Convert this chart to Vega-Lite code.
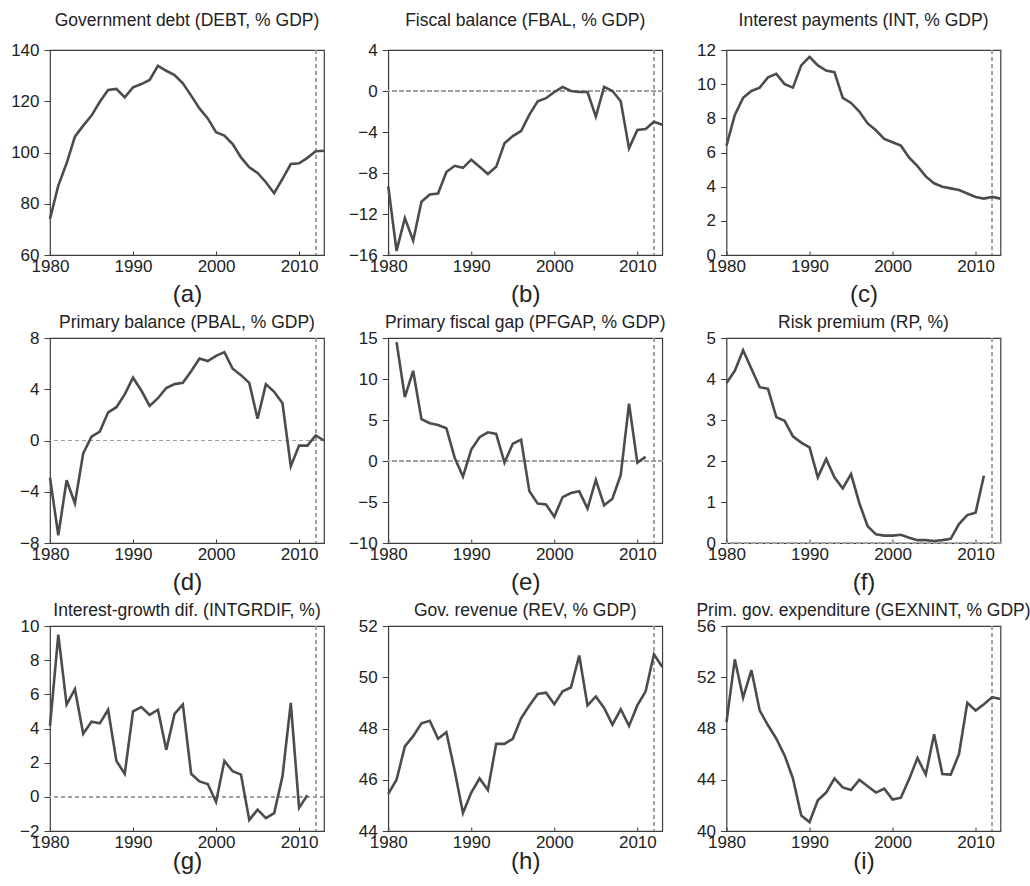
{
  "$schema": "https://vega.github.io/schema/vega-lite/v6.json",
  "padding": {"left": 10, "top": 10, "right": 0, "bottom": 0},
  "background": "white",
  "datasets": {
    "debt": [
      {"year":1980,"v":74.1},{"year":1981,"v":87.1},{"year":1982,"v":95.8},{"year":1983,"v":106.2},{"year":1984,"v":110.5},
      {"year":1985,"v":114.4},{"year":1986,"v":119.8},{"year":1987,"v":124.4},{"year":1988,"v":124.8},{"year":1989,"v":121.5},
      {"year":1990,"v":125.4},{"year":1991,"v":126.7},{"year":1992,"v":128.3},{"year":1993,"v":133.8},{"year":1994,"v":131.9},
      {"year":1995,"v":130.2},{"year":1996,"v":127.0},{"year":1997,"v":122.2},{"year":1998,"v":117.2},{"year":1999,"v":113.3},
      {"year":2000,"v":107.9},{"year":2001,"v":106.6},{"year":2002,"v":103.3},{"year":2003,"v":98.1},{"year":2004,"v":94.2},
      {"year":2005,"v":92.0},{"year":2006,"v":88.4},{"year":2007,"v":84.1},{"year":2008,"v":89.7},{"year":2009,"v":95.5},
      {"year":2010,"v":95.8},{"year":2011,"v":97.9},{"year":2012,"v":100.5},{"year":2013,"v":100.7}
    ],
    "fbal": [
      {"year":1980,"v":-9.3},{"year":1981,"v":-15.6},{"year":1982,"v":-12.4},{"year":1983,"v":-14.6},{"year":1984,"v":-10.8},
      {"year":1985,"v":-10.1},{"year":1986,"v":-10.0},{"year":1987,"v":-7.9},{"year":1988,"v":-7.3},{"year":1989,"v":-7.5},
      {"year":1990,"v":-6.7},{"year":1991,"v":-7.4},{"year":1992,"v":-8.1},{"year":1993,"v":-7.4},{"year":1994,"v":-5.1},
      {"year":1995,"v":-4.4},{"year":1996,"v":-3.9},{"year":1997,"v":-2.3},{"year":1998,"v":-1.0},{"year":1999,"v":-0.7},
      {"year":2000,"v":-0.1},{"year":2001,"v":0.4},{"year":2002,"v":0.0},{"year":2003,"v":-0.1},{"year":2004,"v":-0.1},
      {"year":2005,"v":-2.5},{"year":2006,"v":0.4},{"year":2007,"v":0.0},{"year":2008,"v":-1.0},{"year":2009,"v":-5.6},
      {"year":2010,"v":-3.8},{"year":2011,"v":-3.7},{"year":2012,"v":-3.0},{"year":2013,"v":-3.3}
    ],
    "int": [
      {"year":1980,"v":6.4},{"year":1981,"v":8.2},{"year":1982,"v":9.2},{"year":1983,"v":9.6},{"year":1984,"v":9.8},
      {"year":1985,"v":10.4},{"year":1986,"v":10.6},{"year":1987,"v":10.0},{"year":1988,"v":9.8},{"year":1989,"v":11.1},
      {"year":1990,"v":11.6},{"year":1991,"v":11.1},{"year":1992,"v":10.8},{"year":1993,"v":10.7},{"year":1994,"v":9.2},
      {"year":1995,"v":8.9},{"year":1996,"v":8.4},{"year":1997,"v":7.7},{"year":1998,"v":7.3},{"year":1999,"v":6.8},
      {"year":2000,"v":6.6},{"year":2001,"v":6.4},{"year":2002,"v":5.7},{"year":2003,"v":5.2},{"year":2004,"v":4.6},
      {"year":2005,"v":4.2},{"year":2006,"v":4.0},{"year":2007,"v":3.9},{"year":2008,"v":3.8},{"year":2009,"v":3.6},
      {"year":2010,"v":3.4},{"year":2011,"v":3.3},{"year":2012,"v":3.4},{"year":2013,"v":3.3}
    ],
    "pbal": [
      {"year":1980,"v":-2.9},{"year":1981,"v":-7.4},{"year":1982,"v":-3.1},{"year":1983,"v":-4.9},{"year":1984,"v":-1.0},
      {"year":1985,"v":0.3},{"year":1986,"v":0.7},{"year":1987,"v":2.2},{"year":1988,"v":2.6},{"year":1989,"v":3.6},
      {"year":1990,"v":4.9},{"year":1991,"v":3.9},{"year":1992,"v":2.7},{"year":1993,"v":3.3},{"year":1994,"v":4.1},
      {"year":1995,"v":4.4},{"year":1996,"v":4.5},{"year":1997,"v":5.4},{"year":1998,"v":6.4},{"year":1999,"v":6.2},
      {"year":2000,"v":6.6},{"year":2001,"v":6.9},{"year":2002,"v":5.6},{"year":2003,"v":5.1},{"year":2004,"v":4.5},
      {"year":2005,"v":1.7},{"year":2006,"v":4.4},{"year":2007,"v":3.8},{"year":2008,"v":2.9},{"year":2009,"v":-2.0},
      {"year":2010,"v":-0.4},{"year":2011,"v":-0.4},{"year":2012,"v":0.4},{"year":2013,"v":0.0}
    ],
    "pfgap": [
      {"year":1981,"v":14.5},{"year":1982,"v":7.8},{"year":1983,"v":11.0},{"year":1984,"v":5.1},
      {"year":1985,"v":4.6},{"year":1986,"v":4.4},{"year":1987,"v":4.0},{"year":1988,"v":0.4},{"year":1989,"v":-1.9},
      {"year":1990,"v":1.4},{"year":1991,"v":2.9},{"year":1992,"v":3.5},{"year":1993,"v":3.3},{"year":1994,"v":-0.2},
      {"year":1995,"v":2.1},{"year":1996,"v":2.6},{"year":1997,"v":-3.7},{"year":1998,"v":-5.2},{"year":1999,"v":-5.3},
      {"year":2000,"v":-6.8},{"year":2001,"v":-4.4},{"year":2002,"v":-3.9},{"year":2003,"v":-3.7},{"year":2004,"v":-5.8},
      {"year":2005,"v":-2.3},{"year":2006,"v":-5.4},{"year":2007,"v":-4.6},{"year":2008,"v":-1.7},{"year":2009,"v":7.0},
      {"year":2010,"v":-0.2},{"year":2011,"v":0.5}
    ],
    "rp": [
      {"year":1980,"v":3.9},{"year":1981,"v":4.2},{"year":1982,"v":4.7},{"year":1983,"v":4.25},{"year":1984,"v":3.8},
      {"year":1985,"v":3.76},{"year":1986,"v":3.07},{"year":1987,"v":2.98},{"year":1988,"v":2.6},{"year":1989,"v":2.45},
      {"year":1990,"v":2.33},{"year":1991,"v":1.6},{"year":1992,"v":2.05},{"year":1993,"v":1.6},{"year":1994,"v":1.33},
      {"year":1995,"v":1.68},{"year":1996,"v":0.97},{"year":1997,"v":0.41},{"year":1998,"v":0.21},{"year":1999,"v":0.18},
      {"year":2000,"v":0.18},{"year":2001,"v":0.2},{"year":2002,"v":0.13},{"year":2003,"v":0.07},{"year":2004,"v":0.07},
      {"year":2005,"v":0.05},{"year":2006,"v":0.07},{"year":2007,"v":0.1},{"year":2008,"v":0.46},{"year":2009,"v":0.68},
      {"year":2010,"v":0.74},{"year":2011,"v":1.64}
    ],
    "intgrdif": [
      {"year":1980,"v":4.15},{"year":1981,"v":9.5},{"year":1982,"v":5.4},{"year":1983,"v":6.3},{"year":1984,"v":3.7},
      {"year":1985,"v":4.4},{"year":1986,"v":4.3},{"year":1987,"v":5.1},{"year":1988,"v":2.1},{"year":1989,"v":1.35},
      {"year":1990,"v":5.0},{"year":1991,"v":5.25},{"year":1992,"v":4.8},{"year":1993,"v":5.1},{"year":1994,"v":2.75},
      {"year":1995,"v":4.85},{"year":1996,"v":5.4},{"year":1997,"v":1.35},{"year":1998,"v":0.9},{"year":1999,"v":0.75},
      {"year":2000,"v":-0.3},{"year":2001,"v":2.1},{"year":2002,"v":1.5},{"year":2003,"v":1.3},{"year":2004,"v":-1.35},
      {"year":2005,"v":-0.75},{"year":2006,"v":-1.25},{"year":2007,"v":-0.95},{"year":2008,"v":1.2},{"year":2009,"v":5.5},
      {"year":2010,"v":-0.65},{"year":2011,"v":0.1}
    ],
    "rev": [
      {"year":1980,"v":45.45},{"year":1981,"v":46.0},{"year":1982,"v":47.3},{"year":1983,"v":47.7},{"year":1984,"v":48.2},
      {"year":1985,"v":48.3},{"year":1986,"v":47.6},{"year":1987,"v":47.85},{"year":1988,"v":46.35},{"year":1989,"v":44.7},
      {"year":1990,"v":45.5},{"year":1991,"v":46.05},{"year":1992,"v":45.6},{"year":1993,"v":47.4},{"year":1994,"v":47.4},
      {"year":1995,"v":47.6},{"year":1996,"v":48.4},{"year":1997,"v":48.9},{"year":1998,"v":49.35},{"year":1999,"v":49.4},
      {"year":2000,"v":48.95},{"year":2001,"v":49.45},{"year":2002,"v":49.6},{"year":2003,"v":50.85},{"year":2004,"v":48.9},
      {"year":2005,"v":49.25},{"year":2006,"v":48.8},{"year":2007,"v":48.15},{"year":2008,"v":48.75},{"year":2009,"v":48.1},
      {"year":2010,"v":48.9},{"year":2011,"v":49.45},{"year":2012,"v":50.9},{"year":2013,"v":50.4}
    ],
    "gexnint": [
      {"year":1980,"v":48.5},{"year":1981,"v":53.4},{"year":1982,"v":50.4},{"year":1983,"v":52.55},{"year":1984,"v":49.4},
      {"year":1985,"v":48.25},{"year":1986,"v":47.2},{"year":1987,"v":45.9},{"year":1988,"v":44.1},{"year":1989,"v":41.2},
      {"year":1990,"v":40.7},{"year":1991,"v":42.4},{"year":1992,"v":43.0},{"year":1993,"v":44.1},{"year":1994,"v":43.4},
      {"year":1995,"v":43.2},{"year":1996,"v":44.0},{"year":1997,"v":43.5},{"year":1998,"v":43.0},{"year":1999,"v":43.3},
      {"year":2000,"v":42.45},{"year":2001,"v":42.6},{"year":2002,"v":44.05},{"year":2003,"v":45.7},{"year":2004,"v":44.4},
      {"year":2005,"v":47.55},{"year":2006,"v":44.45},{"year":2007,"v":44.4},{"year":2008,"v":46.0},{"year":2009,"v":50.0},
      {"year":2010,"v":49.4},{"year":2011,"v":49.9},{"year":2012,"v":50.45},{"year":2013,"v":50.3}
    ]
  },
  "vconcat": [
    {
      "hconcat": [
        {
          "width": 274, "height": 205,
          "title": {"text": "Government debt (DEBT, % GDP)", "offset": 12},
          "data": {"name": "debt"},
          "layer": [
            {"mark": {"type": "rule", "color": "#a0a0a0", "strokeDash": [4, 3], "strokeWidth": 1}, "encoding": {"x": {"datum": 2012, "type": "quantitative"}}},
            {"mark": {"type": "line", "color": "#4c4c4c", "strokeWidth": 2.6},
             "encoding": {
               "x": {"field": "year", "type": "quantitative", "scale": {"domain": [1980, 2013], "nice": false, "zero": false}, "axis": {"values": [1980, 1990, 2000, 2010], "format": "d", "title": "(a)"}},
               "y": {"field": "v", "type": "quantitative", "scale": {"domain": [60, 140], "nice": false, "zero": false}, "axis": {"values": [60, 80, 100, 120, 140], "title": null, "labelOverlap": false}}
             }}
          ]
        },
        {
          "width": 274, "height": 205,
          "title": {"text": "Fiscal balance (FBAL, % GDP)", "offset": 12},
          "data": {"name": "fbal"},
          "layer": [
            {"mark": {"type": "rule", "color": "#a0a0a0", "strokeDash": [4, 3], "strokeWidth": 1}, "encoding": {"x": {"datum": 2012, "type": "quantitative"}}},
            {"mark": {"type": "rule", "color": "#a0a0a0", "strokeDash": [4, 3], "strokeWidth": 1}, "encoding": {"y": {"datum": 0, "type": "quantitative"}}},
            {"mark": {"type": "line", "color": "#4c4c4c", "strokeWidth": 2.6},
             "encoding": {
               "x": {"field": "year", "type": "quantitative", "scale": {"domain": [1980, 2013], "nice": false, "zero": false}, "axis": {"values": [1980, 1990, 2000, 2010], "format": "d", "title": "(b)"}},
               "y": {"field": "v", "type": "quantitative", "scale": {"domain": [-16, 4], "nice": false, "zero": false}, "axis": {"values": [-16, -12, -8, -4, 0, 4], "title": null, "labelOverlap": false}}
             }}
          ]
        },
        {
          "width": 274, "height": 205,
          "title": {"text": "Interest payments (INT, % GDP)", "offset": 12},
          "data": {"name": "int"},
          "layer": [
            {"mark": {"type": "rule", "color": "#a0a0a0", "strokeDash": [4, 3], "strokeWidth": 1}, "encoding": {"x": {"datum": 2012, "type": "quantitative"}}},
            {"mark": {"type": "line", "color": "#4c4c4c", "strokeWidth": 2.6},
             "encoding": {
               "x": {"field": "year", "type": "quantitative", "scale": {"domain": [1980, 2013], "nice": false, "zero": false}, "axis": {"values": [1980, 1990, 2000, 2010], "format": "d", "title": "(c)"}},
               "y": {"field": "v", "type": "quantitative", "scale": {"domain": [0, 12], "nice": false, "zero": false}, "axis": {"values": [0, 2, 4, 6, 8, 10, 12], "title": null, "labelOverlap": false}}
             }}
          ]
        }
      ],
      "spacing": 64.25,
      "bounds": "flush"
    },
    {
      "hconcat": [
        {
          "width": 274, "height": 205,
          "title": {"text": "Primary balance (PBAL, % GDP)", "offset": -2},
          "data": {"name": "pbal"},
          "layer": [
            {"mark": {"type": "rule", "color": "#a0a0a0", "strokeDash": [4, 3], "strokeWidth": 1}, "encoding": {"x": {"datum": 2012, "type": "quantitative"}}},
            {"mark": {"type": "rule", "color": "#a0a0a0", "strokeDash": [4, 3], "strokeWidth": 1}, "encoding": {"y": {"datum": 0, "type": "quantitative"}}},
            {"mark": {"type": "line", "color": "#4c4c4c", "strokeWidth": 2.6},
             "encoding": {
               "x": {"field": "year", "type": "quantitative", "scale": {"domain": [1980, 2013], "nice": false, "zero": false}, "axis": {"values": [1980, 1990, 2000, 2010], "format": "d", "title": "(d)"}},
               "y": {"field": "v", "type": "quantitative", "scale": {"domain": [-8, 8], "nice": false, "zero": false}, "axis": {"values": [-8, -4, 0, 4, 8], "title": null, "labelOverlap": false}}
             }}
          ]
        },
        {
          "width": 274, "height": 205,
          "title": {"text": "Primary fiscal gap (PFGAP, % GDP)", "offset": -2},
          "data": {"name": "pfgap"},
          "layer": [
            {"mark": {"type": "rule", "color": "#a0a0a0", "strokeDash": [4, 3], "strokeWidth": 1}, "encoding": {"x": {"datum": 2012, "type": "quantitative"}}},
            {"mark": {"type": "rule", "color": "#a0a0a0", "strokeDash": [4, 3], "strokeWidth": 1}, "encoding": {"y": {"datum": 0, "type": "quantitative"}}},
            {"mark": {"type": "line", "color": "#4c4c4c", "strokeWidth": 2.6},
             "encoding": {
               "x": {"field": "year", "type": "quantitative", "scale": {"domain": [1980, 2013], "nice": false, "zero": false}, "axis": {"values": [1980, 1990, 2000, 2010], "format": "d", "title": "(e)"}},
               "y": {"field": "v", "type": "quantitative", "scale": {"domain": [-10, 15], "nice": false, "zero": false}, "axis": {"values": [-10, -5, 0, 5, 10, 15], "title": null, "labelOverlap": false}}
             }}
          ]
        },
        {
          "width": 274, "height": 205,
          "title": {"text": "Risk premium (RP, %)", "offset": -2},
          "data": {"name": "rp"},
          "layer": [
            {"mark": {"type": "rule", "color": "#a0a0a0", "strokeDash": [4, 3], "strokeWidth": 1}, "encoding": {"x": {"datum": 2012, "type": "quantitative"}}},
            {"mark": {"type": "rule", "color": "#a0a0a0", "strokeDash": [4, 3], "strokeWidth": 1}, "encoding": {"y": {"datum": 0, "type": "quantitative"}}},
            {"mark": {"type": "line", "color": "#4c4c4c", "strokeWidth": 2.6},
             "encoding": {
               "x": {"field": "year", "type": "quantitative", "scale": {"domain": [1980, 2013], "nice": false, "zero": false}, "axis": {"values": [1980, 1990, 2000, 2010], "format": "d", "title": "(f)"}},
               "y": {"field": "v", "type": "quantitative", "scale": {"domain": [0, 5], "nice": false, "zero": false}, "axis": {"values": [0, 1, 2, 3, 4, 5], "title": null, "labelOverlap": false}}
             }}
          ]
        }
      ],
      "spacing": 64.25,
      "bounds": "flush"
    },
    {
      "hconcat": [
        {
          "width": 274, "height": 205,
          "title": {"text": "Interest-growth dif. (INTGRDIF, %)", "offset": -2},
          "data": {"name": "intgrdif"},
          "layer": [
            {"mark": {"type": "rule", "color": "#a0a0a0", "strokeDash": [4, 3], "strokeWidth": 1}, "encoding": {"x": {"datum": 2012, "type": "quantitative"}}},
            {"mark": {"type": "rule", "color": "#a0a0a0", "strokeDash": [4, 3], "strokeWidth": 1}, "encoding": {"y": {"datum": 0, "type": "quantitative", "axis": {"values": [-2, 0, 2, 4, 6, 8, 10], "title": null, "labelOverlap": false}}}},
            {"mark": {"type": "line", "color": "#4c4c4c", "strokeWidth": 2.6},
             "encoding": {
               "x": {"field": "year", "type": "quantitative", "scale": {"domain": [1980, 2013], "nice": false, "zero": false}, "axis": {"values": [1980, 1990, 2000, 2010], "format": "d", "title": "(g)", "titlePadding": -1}},
               "y": {"field": "v", "type": "quantitative", "scale": {"domain": [-2, 10], "nice": false, "zero": false}, "axis": {"values": [-2, 0, 2, 4, 6, 8, 10], "title": null, "labelOverlap": false}}
             }}
          ]
        },
        {
          "width": 274, "height": 205,
          "title": {"text": "Gov. revenue (REV, % GDP)", "offset": -2},
          "data": {"name": "rev"},
          "layer": [
            {"mark": {"type": "rule", "color": "#a0a0a0", "strokeDash": [4, 3], "strokeWidth": 1}, "encoding": {"x": {"datum": 2012, "type": "quantitative"}}},
            {"mark": {"type": "line", "color": "#4c4c4c", "strokeWidth": 2.6},
             "encoding": {
               "x": {"field": "year", "type": "quantitative", "scale": {"domain": [1980, 2013], "nice": false, "zero": false}, "axis": {"values": [1980, 1990, 2000, 2010], "format": "d", "title": "(h)", "titlePadding": -1}},
               "y": {"field": "v", "type": "quantitative", "scale": {"domain": [44, 52], "nice": false, "zero": false}, "axis": {"values": [44, 46, 48, 50, 52], "title": null, "labelOverlap": false}}
             }}
          ]
        },
        {
          "width": 274, "height": 205,
          "title": {"text": "Prim. gov. expenditure (GEXNINT, % GDP)", "offset": -2},
          "data": {"name": "gexnint"},
          "layer": [
            {"mark": {"type": "rule", "color": "#a0a0a0", "strokeDash": [4, 3], "strokeWidth": 1}, "encoding": {"x": {"datum": 2012, "type": "quantitative"}}},
            {"mark": {"type": "line", "color": "#4c4c4c", "strokeWidth": 2.6},
             "encoding": {
               "x": {"field": "year", "type": "quantitative", "scale": {"domain": [1980, 2013], "nice": false, "zero": false}, "axis": {"values": [1980, 1990, 2000, 2010], "format": "d", "title": "(i)", "titlePadding": -1}},
               "y": {"field": "v", "type": "quantitative", "scale": {"domain": [40, 56], "nice": false, "zero": false}, "axis": {"values": [40, 44, 48, 52, 56], "title": null, "labelOverlap": false}}
             }}
          ]
        }
      ],
      "spacing": 64.25,
      "bounds": "flush"
    }
  ],
  "spacing": 288,
  "bounds": "flush",
  "config": {
    "font": "Liberation Sans",
    "view": {"stroke": "#3c3c3c", "strokeWidth": 1.2},
    "axis": {
      "grid": false,
      "domain": false,
      "labelFont": "Liberation Sans",
      "labelFontSize": 17,
      "labelColor": "#222222",
      "labelOverlap": false,
      "tickColor": "#3c3c3c",
      "labelFlush": false,
      "titleFont": "Liberation Sans",
      "titleFontWeight": "normal",
      "titleColor": "#222222"
    },
    "axisX": {"tickSize": -4, "labelPadding": 7.5, "titleFontSize": 24, "titlePadding": 8},
    "axisY": {"tickSize": 6, "labelPadding": 5},
    "title": {"font": "Liberation Sans", "fontSize": 17.5, "fontWeight": "normal", "color": "#222222", "anchor": "middle"}
  }
}
